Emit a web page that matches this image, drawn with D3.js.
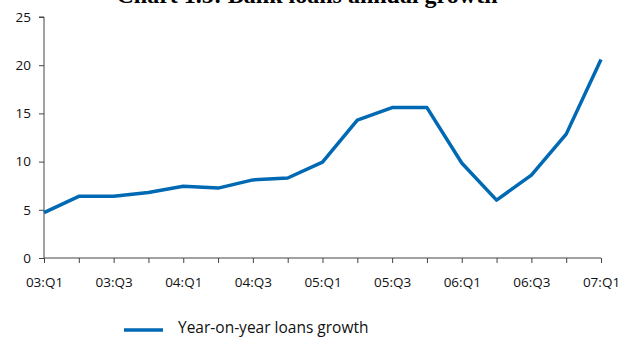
<!DOCTYPE html>
<html>
<head>
<meta charset="utf-8">
<script src="https://cdn.jsdelivr.net/npm/d3@7"></script>
<style>
  body { margin: 0; background: #fff; }
  text { font-family: "Open Sans", sans-serif; }
</style>
</head>
<body>
<div id="chart"></div>
<script>
// quarters 03:Q1 .. 07:Q1
const quarters = ["03:Q1","03:Q2","03:Q3","03:Q4","04:Q1","04:Q2","04:Q3","04:Q4",
  "05:Q1","05:Q2","05:Q3","05:Q4","06:Q1","06:Q2","06:Q3","06:Q4","07:Q1"];
const loansGrowth = [4.7, 6.4, 6.4, 6.8, 7.45, 7.25, 8.1, 8.3,
  9.95, 14.3, 15.6, 15.6, 9.85, 6.0, 8.6, 12.85, 20.6];
const yTicks = [0, 5, 10, 15, 20, 25];
const xLabels = ["03:Q1","03:Q3","04:Q1","04:Q3","05:Q1","05:Q3","06:Q1","06:Q3","07:Q1"];

const W = 629, H = 338;
const svg = d3.select("#chart").append("svg").attr("width", W).attr("height", H);

const x = d3.scalePoint().domain(quarters).range([44, 601]);
const y = d3.scaleLinear().domain([0, 25]).range([258, 17]);

// title (top part is cut off in the original)
svg.append("text")
  .attr("x", 307).attr("y", 3)
  .attr("text-anchor", "middle")
  .style("font-family", "'Liberation Serif', serif")
  .style("font-weight", "bold")
  .style("font-size", "24px")
  .text("Chart 1.5: Bank loans annual growth");

// y axis
const yAxis = svg.append("g")
  .attr("transform", "translate(44,0)")
  .call(d3.axisLeft(y).tickValues(yTicks).tickSize(5).tickPadding(8));
yAxis.select(".domain").attr("stroke", "#444").attr("d", `M-5,${y(25)}H0V${y(0)}`);

// x axis
const xAxis = svg.append("g")
  .attr("transform", "translate(0,258)")
  .call(d3.axisBottom(x).tickSize(5).tickPadding(14)
    .tickFormat(d => xLabels.includes(d) ? d : ""));
xAxis.select(".domain").attr("stroke", "#444").attr("d", `M${x(quarters[0])},0H${x(quarters[quarters.length-1])}`);

svg.selectAll(".tick line").attr("stroke", "#444");
svg.selectAll(".tick text").style("font-size", "13.5px").attr("fill", "#111");

// line
const line = d3.line()
  .x((d, i) => x(quarters[i]))
  .y(d => y(d));

svg.append("path")
  .datum(loansGrowth)
  .attr("d", line)
  .attr("fill", "none")
  .attr("stroke", "#0069b4")
  .attr("stroke-width", 3.5)
  .attr("stroke-linejoin", "round");

// legend
svg.append("line")
  .attr("x1", 124).attr("x2", 163)
  .attr("y1", 330).attr("y2", 330)
  .attr("stroke", "#0069b4")
  .attr("stroke-width", 3.5);

svg.append("text")
  .attr("x", 178).attr("y", 333)
  .style("font-size", "15.5px")
  .attr("fill", "#111")
  .text("Year-on-year loans growth");
</script>
</body>
</html>
